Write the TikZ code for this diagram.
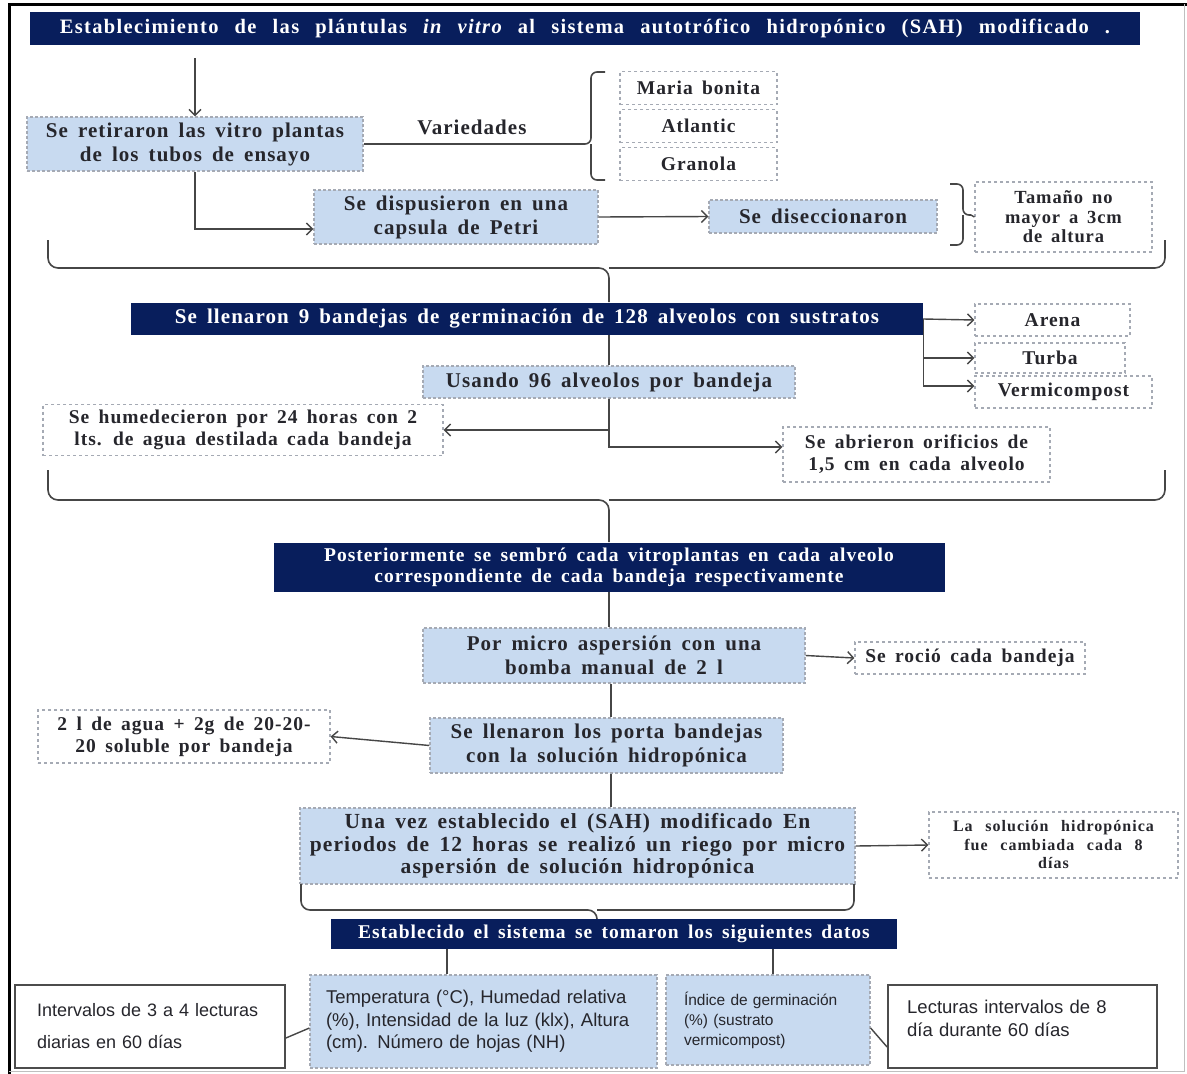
\documentclass[tikz,border=0pt]{standalone}
\usepackage{fontspec}
\setmainfont{Liberation Serif}
\setsansfont{Liberation Sans}
\newfontfamily\bx[LetterSpace=5,WordSpace=1.6]{Liberation Serif}
\newfontfamily\tx[LetterSpace=6.5,WordSpace=2.5]{Liberation Serif}
\usetikzlibrary{arrows.meta}
\definecolor{navy}{RGB}{8,30,92}
\definecolor{lblue}{RGB}{200,218,240}
\definecolor{edgec}{RGB}{165,170,180}
\definecolor{ink}{RGB}{38,38,44}
\definecolor{connc}{RGB}{70,70,70}
\begin{document}
\begin{tikzpicture}[x=1pt,y=-1pt,
  every node/.style={inner sep=0pt, align=center, text=ink},
  navybar/.style={fill=navy, text=white, font=\bx\bfseries\fontsize{19.5}{21}\selectfont},
  bluebox/.style={fill=lblue, draw=edgec, dash pattern=on 3pt off 2pt, line width=1.2pt, font=\bx\bfseries\fontsize{21}{24}\selectfont},
  dotbox/.style={fill=white, draw=edgec, dash pattern=on 3pt off 3pt, line width=1.2pt, font=\bx\bfseries\fontsize{19.5}{22}\selectfont},
  solidbox/.style={fill=white, draw=black!70, line width=1.8pt},
  sans/.style={font=\sffamily\fontsize{18.5}{22.5}\selectfont, align=left},
  conn/.style={draw=connc, line width=1.4pt},
  arr/.style={conn, -{Straight Barb[length=6pt,width=12pt]}},
  brace/.style={draw=connc, line width=1.6pt, rounded corners=6pt},
]
\useasboundingbox (0,0) rectangle (1187,1074);
\fill[white] (0,0) rectangle (1187,1074);
% frame
\draw[black, line width=3pt] (9,1074) -- (9,4) -- (1187,4);
\draw[black!25, line width=1pt] (1184,4) -- (1184,1071) -- (9,1071);

% title
\node[navybar, font=\tx\bfseries\fontsize{20.5}{22}\selectfont, minimum width=1110, minimum height=33] (title) at (585,28.5)
  {Establecimiento de las plántulas {\itshape in vitro} al sistema autotrófico hidropónico (SAH) modificado .};

\node[bluebox, minimum width=336, minimum height=54] (b1) at (195,144) {Se retiraron las vitro plantas\\de los tubos de ensayo};
\draw[arr] ([yshift=-13pt]title.south -| b1.north) -- (b1.north);
\node[font=\bx\bfseries\fontsize{21}{22}\selectfont] (var) at (472,127) {Variedades};
\coordinate (vtip) at (583,144);
\draw[conn] (b1.east) -- (vtip);
\draw[brace] (605,72) -- (591,72) -- (591,144) -- (vtip);
\draw[brace] (605,180) -- (591,180) -- (591,144);

\node[dotbox, minimum width=157, minimum height=33] (mb) at (698.5,88) {Maria bonita};
\node[dotbox, minimum width=157, minimum height=33] (atl) at (698.5,126) {Atlantic};
\node[dotbox, minimum width=157, minimum height=33] (gra) at (698.5,164) {Granola};

\node[bluebox, minimum width=284, minimum height=54] (b2) at (456,217) {Se dispusieron en una\\capsula de Petri};
\draw[arr] (b1.south) |- ([yshift=-12pt]b2.west);
\node[bluebox, minimum width=228, minimum height=33] (b3) at (823,216.5) {Se diseccionaron};
\draw[arr] (b2.east) -- (b3.west);

\node[dotbox, font=\bx\bfseries\fontsize{18.5}{19.5}\selectfont, minimum width=177, minimum height=70] (b4) at (1063.5,217) {Tamaño no\\mayor a 3cm\\de altura};
\coordinate (rtip) at (971,215);
\draw[brace] (950,184) -- (963,184) -- (963,215) -- (rtip);
\draw[brace] (950,245) -- (963,245) -- (963,215);
\draw[conn] (rtip) -- (b4.west);

% big brace 1
\coordinate (t1) at (609,302);
\draw[brace, rounded corners=10pt] (48,240) -- (48,268) -- (609,268) -- (t1);
\draw[brace, rounded corners=10pt] (1165,240) -- (1165,268) -- (609,268);

\node[navybar, font=\bx\bfseries\fontsize{21}{22}\selectfont, minimum width=792, minimum height=32] (bar2) at (527,319) {Se llenaron 9 bandejas de germinación de 128 alveolos con sustratos};
\node[dotbox, minimum width=155, minimum height=32] (arena) at (1052.5,320) {Arena};
\node[dotbox, minimum width=150, minimum height=30] (turba) at (1050,358) {Turba};
\node[dotbox, minimum width=177, minimum height=32] (vermi) at (1063.5,392) {Vermicompost};
\draw[arr] (bar2.east) -- (arena.west);
\draw[arr] (bar2.east) |- (turba.west);
\draw[arr] (bar2.east) |- ([yshift=6pt]vermi.west);

\node[bluebox, minimum width=372, minimum height=32] (usa) at (609,382) {Usando 96 alveolos por bandeja};
\draw[conn] (bar2.south -| usa.north) -- (usa.north);
\node[dotbox, minimum width=400, minimum height=51] (hum) at (243,430) {Se humedecieron por 24 horas con 2\\lts. de agua destilada cada bandeja};
\node[dotbox, minimum width=267, minimum height=55] (abr) at (916.5,454.5) {Se abrieron orificios de\\1,5 cm en cada alveolo};
\draw[arr] (usa.south) |- (hum.east);
\draw[arr] (usa.south) |- ([yshift=7.5pt]abr.west);

% big brace 2
\coordinate (t2) at (609,542);
\draw[brace, rounded corners=10pt] (48,470) -- (48,500) -- (609,500) -- (t2);
\draw[brace, rounded corners=10pt] (1165,470) -- (1165,500) -- (609,500);

\node[navybar, minimum width=671, minimum height=49] (bar3) at (609,567.5) {Posteriormente se sembró cada vitroplantas en cada alveolo\\correspondiente de cada bandeja respectivamente};
\node[bluebox, minimum width=382, minimum height=55] (mic) at (614,655.5) {Por micro aspersión con una\\bomba manual de 2 l};
\draw[conn] (bar3.south) -- (bar3.south |- mic.north);
\node[dotbox, minimum width=230, minimum height=32] (roc) at (970,658) {Se roció cada bandeja};
\draw[arr] (mic.east) -- (roc.west);

\node[bluebox, minimum width=353, minimum height=55] (lle) at (606.5,745.5) {Se llenaron los porta bandejas\\con la solución hidropónica};
\draw[conn] (mic.south -| 611,0) -- (lle.north -| 611,0);
\node[dotbox, minimum width=292, minimum height=53] (agu) at (184,736.5) {2 l de agua + 2g de 20-20-\\20 soluble por bandeja};
\draw[arr] (lle.west) -- (agu.east);

\node[bluebox, minimum width=555, minimum height=76, font=\bx\bfseries\fontsize{21.5}{22.5}\selectfont] (una) at (577.5,846) {Una vez establecido el (SAH) modificado En\\periodos de 12 horas se realizó un riego por micro\\aspersión de solución hidropónica};
\draw[conn] (lle.south -| 611,0) -- (una.north -| 611,0);
\node[dotbox, minimum width=249, minimum height=66, font=\tx\bfseries\fontsize{16}{18.5}\selectfont] (sol) at (1053.5,845) {La solución hidropónica\\fue cambiada cada 8\\días};
\draw[arr] (una.east) -- (sol.west);

% brace 3
\coordinate (t3) at (597,920);
\draw[brace, rounded corners=9pt] (301,884) -- (301,910) -- (597,910) -- (t3);
\draw[brace, rounded corners=9pt] (854,884) -- (854,910) -- (597,910);

\node[navybar, minimum width=566, minimum height=30] (bar4) at (614,934) {Establecido el sistema se tomaron los siguientes datos};

\node[bluebox, sans, text width=315, inner xsep=16pt, minimum height=93] (tem) at (483.5,1021.5) {Temperatura (°C), Humedad relativa\\(\%), Intensidad de la luz (klx), Altura\\(cm). Número de hojas (NH)};
\node[bluebox, sans, font=\sffamily\fontsize{15.5}{20}\selectfont, text width=168, inner xsep=18pt, minimum height=90] (ind) at (768,1020) {Índice de germinación\\(\%) (sustrato\\vermicompost)};
\draw[conn] (bar4.south -| 447,0) -- (tem.north -| 447,0);
\draw[conn] (bar4.south -| 773,0) -- (ind.north -| 773,0);

\node[solidbox, sans, font=\sffamily\fontsize{18}{32}\selectfont, text width=226, inner xsep=22pt, minimum height=83] (int) at (150,1026.5) {Intervalos de 3 a 4 lecturas\\diarias en 60 días};
\node[solidbox, minimum width=269, minimum height=83] (lec) at (1022.5,1026.5) {};
\node[sans, text width=235, anchor=west] (lect) at (907,1018.5) {Lecturas intervalos de 8\\día durante 60 días};
\draw[conn] ([yshift=-11.5pt]int.east) -- ([yshift=-6.5pt]tem.west);
\draw[conn] ([yshift=-8pt]ind.east) -- ([yshift=-20.5pt]lec.west);
\end{tikzpicture}
\end{document}
